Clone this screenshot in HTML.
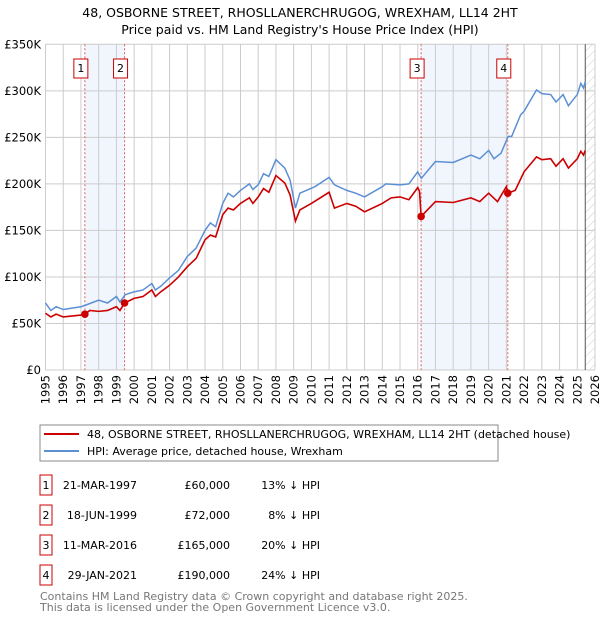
<!DOCTYPE html>
<html><head><meta charset="utf-8"><style>
body{margin:0;background:#fff;font-family:"DejaVu Sans","Liberation Sans",sans-serif;}
svg{display:block}
</style></head><body>
<svg id="c" width="600" height="620" xmlns="http://www.w3.org/2000/svg" font-family="DejaVu Sans, Liberation Sans, sans-serif">
<defs><pattern id="hatch" width="6" height="6" patternUnits="userSpaceOnUse" patternTransform="rotate(45)"><line x1="0" y1="0" x2="0" y2="6" stroke="#ccc" stroke-width="1"/></pattern></defs>
<text x="300" y="17" text-anchor="middle" font-size="12.5">48, OSBORNE STREET, RHOSLLANERCHRUGOG, WREXHAM, LL14 2HT</text>
<text x="300" y="34" text-anchor="middle" font-size="12.5">Price paid vs. HM Land Registry's House Price Index (HPI)</text>
<g id="plot"></g>
<g>
<rect x="40" y="425" width="458" height="36" fill="#fff" stroke="#888"/>
<line x1="44" y1="434" x2="79" y2="434" stroke="#cc0000" stroke-width="2"/>
<text x="87" y="438" font-size="11">48, OSBORNE STREET, RHOSLLANERCHRUGOG, WREXHAM, LL14 2HT (detached house)</text>
<line x1="44" y1="451" x2="79" y2="451" stroke="#5b8fd4" stroke-width="2"/>
<text x="87" y="455" font-size="11">HPI: Average price, detached house, Wrexham</text>
</g>
<g id="table" font-size="11"></g>
<text x="40" y="600" font-size="11" fill="#777">Contains HM Land Registry data © Crown copyright and database right 2025.</text>
<text x="40" y="611" font-size="11" fill="#777">This data is licensed under the Open Government Licence v3.0.</text>
</svg>
<script>
const hpiYears=[1995,1995.3,1995.6,1996,1997,1997.3,1998,1998.5,1999,1999.2,1999.5,2000,2000.5,2001,2001.2,2001.5,2002,2002.5,2003,2003.5,2004,2004.3,2004.6,2005,2005.3,2005.6,2006,2006.5,2006.7,2007,2007.3,2007.6,2008,2008.5,2008.8,2009.1,2009.35,2010.2,2011,2011.3,2012,2012.5,2013,2014,2014.2,2015,2015.5,2016,2016.2,2017,2018,2018.5,2019,2019.5,2020,2020.3,2020.7,2021.1,2021.3,2021.8,2022,2022.7,2023,2023.5,2023.8,2024.2,2024.5,2025,2025.2,2025.35,2025.45];
const hpiValues=[72,64,68,65,68,70,75,72,79,73,81,84,86,93,86,90,99,107,122,131,150,158,154,179,190,186,193,200,194,199,211,208,226,217,204,174,190,197,207,199,193,190,186,197,200,199,200,213,206,224,223,227,231,227,236,227,233,251,251,274,278,301,297,296,288,296,284,296,308,303,310];
const priceYears=[1995,1995.3,1995.6,1996,1997,1997.22,1997.5,1998,1998.5,1999,1999.2,1999.46,2000,2000.5,2001,2001.2,2001.5,2002,2002.5,2003,2003.5,2004,2004.3,2004.6,2005,2005.3,2005.6,2006,2006.5,2006.7,2007,2007.3,2007.6,2008,2008.5,2008.8,2009.1,2009.35,2010,2011,2011.3,2012,2012.5,2013,2014,2014.5,2015,2015.5,2016,2016.1,2016.19,2017,2018,2019,2019.5,2020,2020.5,2021.0,2021.08,2021.5,2022,2022.7,2023,2023.5,2023.8,2024.2,2024.5,2025,2025.2,2025.35,2025.45];
const priceValues=[61,57,60,57,59,60,64,63,64,68,64,72,77,79,86,79,84,91,100,111,120,140,145,143,167,174,172,179,185,179,186,195,191,209,201,188,160,172,179,191,174,179,176,170,179,185,186,183,196,192,165,181,180,185,181,190,181,197,190,193,213,229,226,227,219,227,217,227,235,231,236];
const saleLabels=["1","2","3","4"];
const saleYears=[1997.22,1999.46,2016.19,2021.08];
const saleValues=[60,72,165,190];
const saleDates=["21-MAR-1997","18-JUN-1999","11-MAR-2016","29-JAN-2021"];
const salePrices=["£60,000","£72,000","£165,000","£190,000"];
const saleDiffs=["13% ↓ HPI","8% ↓ HPI","20% ↓ HPI","24% ↓ HPI"];
const yTicks=[0,50,100,150,200,250,300,350];
const yTickLabels=["£0","£50K","£100K","£150K","£200K","£250K","£300K","£350K"];
const xTicks=[];for(let y=1995;y<=2026;y++)xTicks.push(y);
const dataEnd=2025.45;

const X0=45.5,X1=595,Y0=370,Y1=44.3;
const xs=y=>X0+(y-1995)/(2026-1995)*(X1-X0);
const ys=v=>Y0-v/350*(Y0-Y1);
const NS="http://www.w3.org/2000/svg";
const plot=document.getElementById('plot');
function mk(tag,attrs,parent){const e=document.createElementNS(NS,tag);for(const k in attrs)e.setAttribute(k,attrs[k]);(parent||plot).appendChild(e);return e;}

let b=mk('rect',{x:xs(saleYears[0]),y:Y1,width:xs(saleYears[1])-xs(saleYears[0]),height:Y0-Y1,fill:'#eef3fc',opacity:0.8});


b=mk('rect',{x:xs(saleYears[2]),y:Y1,width:xs(saleYears[3])-xs(saleYears[2]),height:Y0-Y1,fill:'#eef3fc',opacity:0.8});


b=mk('rect',{x:xs(dataEnd),y:Y1,width:X1-xs(dataEnd),height:Y0-Y1,fill:'url(#hatch)'});


xTicks.forEach(t=>{const l=mk('line',{x1:xs(t),x2:xs(t),y1:Y1,y2:Y0,stroke:'#cccccc','stroke-width':1});


const tx=mk('text',{x:0,y:0,'font-size':11.5,'text-anchor':'end',transform:`translate(${xs(t)+4},${Y0+5}) rotate(-90)`});tx.textContent=t;

});
yTicks.forEach((t,i)=>{const l=mk('line',{x1:X0,x2:X1,y1:ys(t),y2:ys(t),stroke:'#cccccc','stroke-width':1});


const tx=mk('text',{x:41,y:ys(t)+4,'font-size':11.5,'text-anchor':'end'});tx.textContent=yTickLabels[i];

});
let dl=mk('line',{x1:xs(dataEnd),x2:xs(dataEnd),y1:Y1,y2:Y0,stroke:'#555','stroke-width':1});


saleYears.forEach((y,i)=>{const l=mk('line',{x1:xs(y),x2:xs(y),y1:Y1,y2:Y0,stroke:'#e06060','stroke-width':1,'stroke-dasharray':'2,2'});


const r=mk('rect',{x:xs(y)-11,y:59,width:14,height:19,fill:'#fff',stroke:'#cc0000'});


const t=mk('text',{x:xs(y)-4,y:72,'font-size':11,'text-anchor':'middle'});t.textContent=saleLabels[i];

});
let p=mk('polyline',{points:hpiYears.map((y,i)=>xs(y)+','+ys(hpiValues[i])).join(' '),fill:'none',stroke:'#5b8fd4','stroke-width':1.5});


p=mk('polyline',{points:priceYears.map((y,i)=>xs(y)+','+ys(priceValues[i])).join(' '),fill:'none',stroke:'#cc0000','stroke-width':1.6});


saleYears.forEach((y,i)=>{const c=mk('circle',{cx:xs(y),cy:ys(saleValues[i]),r:3.8,fill:'#cc0000'});

});
const tb=document.getElementById('table');
saleLabels.forEach((s,i)=>{const cy=485+i*30;
const r=mk('rect',{x:40,y:cy-10,width:12,height:20,fill:'#fff',stroke:'#cc0000'},tb);


const cols=[[46,s,'middle'],[137,saleDates[i],'end'],[230,salePrices[i],'end'],[320,saleDiffs[i],'end']];
cols.forEach(c=>{const t=mk('text',{x:c[0],y:cy+4,'text-anchor':c[2]},tb);t.textContent=c[1];

});});
</script>
</body></html>
